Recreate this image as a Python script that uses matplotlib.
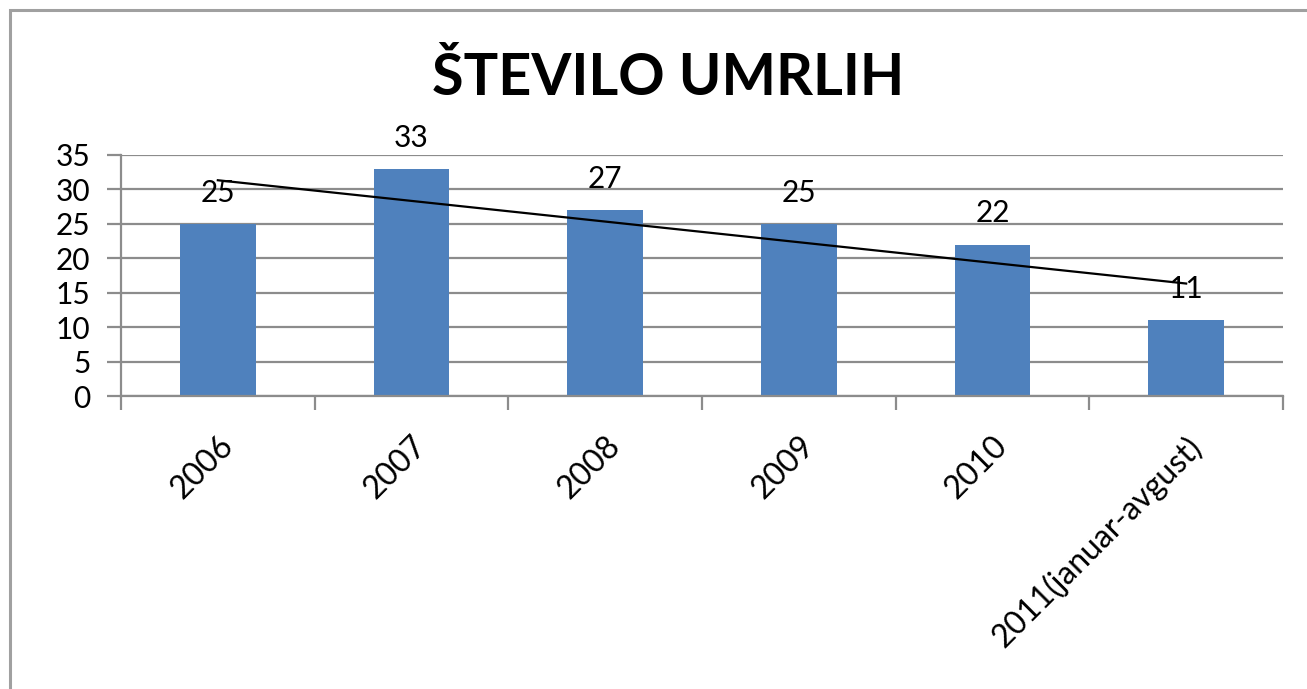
import matplotlib
matplotlib.use("Agg")
import matplotlib.pyplot as plt
import numpy as np
from matplotlib.patches import Rectangle

plt.rcParams['font.family'] = ['Lato', 'DejaVu Sans']

# Data
categories = ['2006', '2007', '2008', '2009', '2010', '2011(januar-avgust)']
deaths = [25, 33, 27, 25, 22, 11]
title = 'ŠTEVILO UMRLIH'

bar_color = '#4F81BD'
grid_color = '#8C8C8C'
fs = 21.5

fig = plt.figure(figsize=(13.07, 6.89), dpi=100)

# outer chart border (only left and top visible in the picture)
fig.patches.append(Rectangle((10 / 1307, -0.1), 1.2, 1 - 10 / 689 + 0.1,
                             transform=fig.transFigure, fill=False,
                             edgecolor='#A0A0A0', linewidth=2.2, zorder=0))

ax = fig.add_axes([121 / 1307, 1 - 396 / 689, (1283 - 121) / 1307, (396 - 155) / 689])

x = np.arange(len(categories))
ax.bar(x, deaths, width=0.39, color=bar_color, zorder=2)

# linear trendline
slope, intercept = np.polyfit(x, deaths, 1)
ax.plot(x, slope * x + intercept, color='black', linewidth=1.6, zorder=3)

# data labels
for xi, v in zip(x, deaths):
    ax.annotate(str(v), (xi, v), xytext=(0, 16), textcoords='offset points',
                ha='center', va='baseline', fontsize=fs, zorder=4)

ax.set_xlim(-0.5, len(categories) - 0.5)
ax.set_ylim(0, 35)
ax.set_yticks(np.arange(0, 36, 5))
ax.yaxis.grid(True, color=grid_color, linewidth=1.6, zorder=0)
ax.set_axisbelow(True)

# category boundaries as major ticks, labels on minor ticks at centers
ax.set_xticks(np.arange(-0.5, len(categories), 1.0))
ax.set_xticklabels([])
ax.set_xticks(x, minor=True)
ax.set_xticklabels(categories, minor=True, rotation=45, ha='right',
                   rotation_mode='anchor', fontsize=23)
ax.tick_params(axis='x', which='minor', length=0, pad=25)
ax.tick_params(axis='x', which='major', length=10, width=1.6, color=grid_color)
ax.tick_params(axis='y', length=10, width=1.6, color=grid_color, labelsize=fs, pad=12)

for side in ['top', 'right']:
    ax.spines[side].set_visible(False)
for side in ['left', 'bottom']:
    ax.spines[side].set_color(grid_color)
    ax.spines[side].set_linewidth(1.6)

fig.text(0.511, 1 - 95 / 689, title, ha='center', va='baseline',
         fontsize=41.5, fontweight='bold')

fig.savefig('out.png', dpi=100)
